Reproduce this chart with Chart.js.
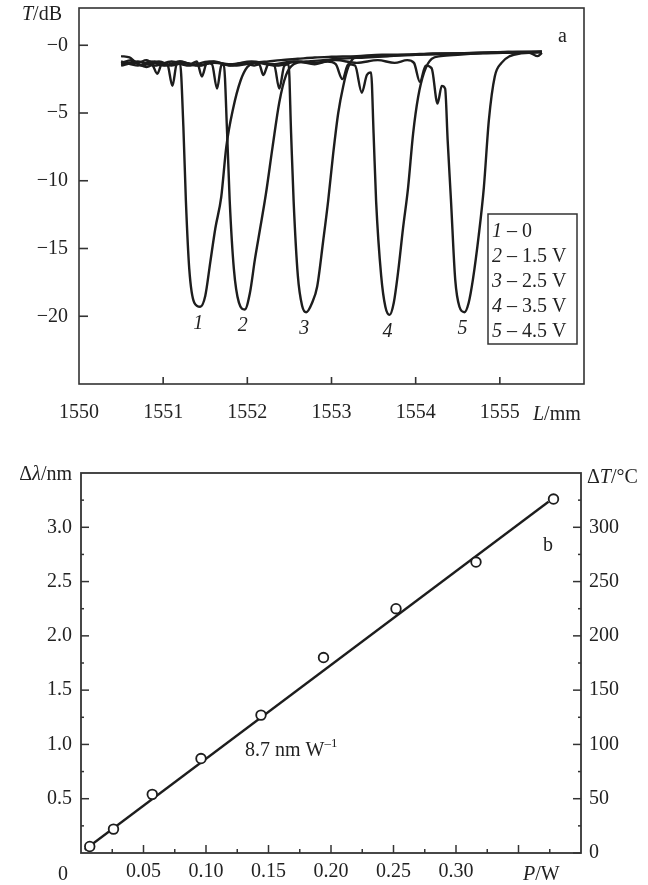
<!DOCTYPE html>
<html>
<head>
<meta charset="utf-8">
<script src="https://cdn.jsdelivr.net/npm/chart.js@4"></script>
<style>
  html, body { margin: 0; padding: 0; background: #fff; }
  #wrap { position: relative; width: 648px; height: 885px; }
  canvas { position: absolute; left: 0; }
  #top { top: 0; }
  #bot { top: 442px; }
</style>
</head>
<body>
<div id="wrap">
  <canvas id="top" width="648" height="442"></canvas>
  <canvas id="bot" width="648" height="443"></canvas>
</div>
<script>
// ---- panel a: transmission spectra, [wavelength, dB] ----
const curve1 = [[1550.50,-0.8],[1550.60,-0.9],[1550.70,-1.3],[1550.80,-1.1],[1550.87,-1.4],[1550.93,-2.1],[1550.99,-1.3],[1551.05,-1.4],[1551.11,-3.0],[1551.16,-1.4],[1551.20,-1.3],[1551.24,-6.0],[1551.27,-11.5],[1551.31,-16.5],[1551.37,-19.0],[1551.44,-19.3],[1551.50,-18.5],[1551.56,-16.0],[1551.62,-13.5],[1551.69,-11.2],[1551.75,-7.5],[1551.83,-4.7],[1551.92,-2.6],[1552.00,-1.6],[1552.10,-1.3],[1552.25,-1.2],[1552.40,-1.1],[1552.60,-1.0],[1552.80,-0.9],[1553.00,-0.85],[1553.30,-0.8],[1553.60,-0.7],[1553.90,-0.7],[1554.20,-0.6],[1554.50,-0.6],[1554.80,-0.55],[1555.10,-0.5],[1555.30,-0.55],[1555.50,-0.5]];
const curve2 = [[1550.50,-1.3],[1550.62,-1.1],[1550.75,-1.5],[1550.90,-1.2],[1551.05,-1.5],[1551.20,-1.2],[1551.32,-1.4],[1551.40,-1.2],[1551.46,-2.3],[1551.52,-1.3],[1551.58,-1.4],[1551.64,-3.2],[1551.69,-1.5],[1551.72,-1.4],[1551.76,-6.5],[1551.79,-11.4],[1551.84,-16.5],[1551.90,-19.0],[1551.97,-19.5],[1552.03,-18.3],[1552.09,-15.8],[1552.15,-13.6],[1552.22,-11.0],[1552.30,-7.5],[1552.38,-4.2],[1552.46,-2.2],[1552.55,-1.4],[1552.70,-1.2],[1552.90,-1.1],[1553.10,-1.0],[1553.40,-0.9],[1553.70,-0.8],[1554.00,-0.7],[1554.30,-0.65],[1554.60,-0.6],[1554.90,-0.55],[1555.20,-0.5],[1555.50,-0.5]];
const curve3 = [[1550.50,-1.5],[1550.65,-1.3],[1550.80,-1.6],[1550.95,-1.2],[1551.10,-1.5],[1551.25,-1.3],[1551.45,-1.5],[1551.60,-1.2],[1551.80,-1.5],[1551.95,-1.3],[1552.08,-1.5],[1552.14,-1.4],[1552.19,-2.2],[1552.25,-1.4],[1552.32,-1.5],[1552.38,-3.2],[1552.44,-1.5],[1552.49,-1.4],[1552.52,-6.5],[1552.55,-11.5],[1552.60,-17.0],[1552.65,-19.2],[1552.70,-19.7],[1552.77,-19.0],[1552.83,-17.8],[1552.90,-14.5],[1552.96,-11.5],[1553.02,-8.0],[1553.08,-5.0],[1553.14,-3.0],[1553.20,-1.6],[1553.28,-0.9],[1553.40,-0.85],[1553.60,-0.8],[1553.90,-0.7],[1554.20,-0.65],[1554.50,-0.6],[1554.80,-0.55],[1555.10,-0.5],[1555.50,-0.45]];
const curve4 = [[1550.50,-1.2],[1550.70,-1.5],[1550.85,-1.2],[1551.00,-1.5],[1551.20,-1.2],[1551.40,-1.5],[1551.60,-1.3],[1551.85,-1.5],[1552.10,-1.3],[1552.35,-1.5],[1552.60,-1.2],[1552.80,-1.4],[1552.95,-1.2],[1553.05,-1.4],[1553.13,-2.5],[1553.20,-1.4],[1553.28,-1.5],[1553.36,-3.5],[1553.42,-2.2],[1553.47,-2.0],[1553.50,-6.5],[1553.53,-11.5],[1553.59,-17.0],[1553.64,-19.3],[1553.69,-19.9],[1553.74,-19.0],[1553.79,-16.8],[1553.85,-13.5],[1553.91,-10.5],[1553.97,-6.5],[1554.03,-3.8],[1554.10,-2.0],[1554.19,-1.0],[1554.30,-0.8],[1554.50,-0.7],[1554.80,-0.6],[1555.10,-0.55],[1555.50,-0.5]];
const curve5 = [[1550.50,-1.4],[1550.70,-1.2],[1550.90,-1.5],[1551.10,-1.2],[1551.30,-1.5],[1551.55,-1.2],[1551.80,-1.4],[1552.05,-1.2],[1552.30,-1.4],[1552.55,-1.2],[1552.80,-1.3],[1553.05,-1.1],[1553.30,-1.3],[1553.55,-1.1],[1553.75,-1.3],[1553.90,-1.1],[1553.98,-1.3],[1554.05,-2.7],[1554.12,-1.5],[1554.19,-1.7],[1554.26,-4.3],[1554.31,-3.0],[1554.35,-3.2],[1554.38,-7.0],[1554.42,-11.5],[1554.47,-17.3],[1554.52,-19.3],[1554.58,-19.7],[1554.63,-19.0],[1554.68,-17.3],[1554.75,-14.0],[1554.81,-10.5],[1554.87,-5.5],[1554.94,-2.3],[1555.02,-1.3],[1555.12,-0.8],[1555.25,-0.6],[1555.35,-0.55],[1555.45,-0.8],[1555.50,-0.55]];
const curves = [curve1, curve2, curve3, curve4, curve5];
const legendNums = ['1', '2', '3', '4', '5'];
const legendVals = ['0', '1.5 V', '2.5 V', '3.5 V', '4.5 V'];
const xTicksA = [1550, 1551, 1552, 1553, 1554, 1555];
const yTicksA = [0, -5, -10, -15, -20];

// ---- panel b: shift vs power ----
const powerW = [0.007, 0.026, 0.057, 0.096, 0.144, 0.194, 0.252, 0.316, 0.378];
const shiftNm = [0.06, 0.22, 0.54, 0.87, 1.27, 1.80, 2.25, 2.68, 3.26];
const fitW = [0.003, 0.374];
const fitNm = [0.03, 3.235];
const xTicksB = [0.05, 0.10, 0.15, 0.20, 0.25, 0.30, 0.35];
const xMinorB = [0.025, 0.075, 0.125, 0.175, 0.225, 0.275, 0.325, 0.375];
const yTicksB = [0.5, 1.0, 1.5, 2.0, 2.5, 3.0];
const yMinorB = [0.25, 0.75, 1.25, 1.75, 2.25, 2.75, 3.25];
const tTicksB = [0, 50, 100, 150, 200, 250, 300];
const tMinorB = [25, 75, 125, 175, 225, 275, 325];

const INK = '#1d1d1d';
const SERIF = "'Liberation Serif', 'Times New Roman', serif";
const tickFont = { family: SERIF, size: 20 };

function text(ctx, parts, x, y, align) {
  // parts: [str, italic, size, dy]
  let w = 0;
  parts.forEach(p => { ctx.font = (p[1] ? 'italic ' : '') + (p[2] || 20) + 'px ' + SERIF; w += ctx.measureText(p[0]).width; });
  let cx = align === 'right' ? x - w : align === 'center' ? x - w / 2 : x;
  ctx.textAlign = 'left';
  ctx.textBaseline = 'alphabetic';
  parts.forEach(p => {
    ctx.font = (p[1] ? 'italic ' : '') + (p[2] || 20) + 'px ' + SERIF;
    ctx.fillText(p[0], cx, y + (p[3] || 0));
    cx += ctx.measureText(p[0]).width;
  });
}

function ticks(ctx, scale, values, len, side) {
  values.forEach(v => {
    const p = scale.getPixelForValue(v);
    ctx.beginPath();
    if (side === 'bottom') { ctx.moveTo(p, scale.top); ctx.lineTo(p, scale.top - len); }
    if (side === 'left') { ctx.moveTo(scale.right, p); ctx.lineTo(scale.right + len, p); }
    if (side === 'right') { ctx.moveTo(scale.left, p); ctx.lineTo(scale.left - len, p); }
    ctx.stroke();
  });
}

// fixed axis sizes, no extra label overflow padding
function fixSize(prop, size) {
  return s => {
    s[prop] = size;
    s.paddingTop = 0; s.paddingBottom = 0; s.paddingLeft = 0; s.paddingRight = 0;
  };
}

const decorA = {
  id: 'decorA',
  afterDraw(chart) {
    const { ctx, chartArea: a, scales } = chart;
    ctx.save();
    ctx.strokeStyle = '#333';
    ctx.fillStyle = '#222';
    ctx.lineWidth = 1.6;
    ctx.strokeRect(a.left, a.top, a.right - a.left, a.bottom - a.top);
    ticks(ctx, scales.x, [1551, 1552, 1553, 1554, 1555], 7, 'bottom');
    ticks(ctx, scales.y, yTicksA, 9, 'left');

    text(ctx, [['T', true], ['/dB', false]], 22, 20);
    text(ctx, [['L', true], ['/mm', false]], 533, 420);
    text(ctx, [['a', false]], 558, 42);

    // curve numbers under each minimum
    curves.forEach((c, i) => {
      let m = c[0];
      c.forEach(p => { if (p[1] < m[1]) m = p; });
      const px = scales.x.getPixelForValue(m[0]) - 2;
      const py = scales.y.getPixelForValue(m[1]) + 22;
      text(ctx, [[legendNums[i], true]], px, py, 'center');
    });

    // legend box
    ctx.lineWidth = 1.5;
    ctx.strokeRect(488, 214, 89, 130);
    legendNums.forEach((n, i) => {
      text(ctx, [[n, true], [' \u2013 ' + legendVals[i], false]], 492, 237 + 25 * i);
    });
    ctx.restore();
  }
};

const decorB = {
  id: 'decorB',
  afterDraw(chart) {
    const { ctx, chartArea: a, scales } = chart;
    ctx.save();
    ctx.strokeStyle = '#333';
    ctx.fillStyle = '#222';
    ctx.lineWidth = 1.8;
    ctx.strokeRect(a.left, a.top, a.right - a.left, a.bottom - a.top);
    ctx.lineWidth = 1.5;
    ticks(ctx, scales.x, xTicksB, 8, 'bottom');
    ticks(ctx, scales.x, xMinorB, 4, 'bottom');
    ticks(ctx, scales.y, yTicksB, 8, 'left');
    ticks(ctx, scales.y, yMinorB, 3, 'left');
    ticks(ctx, scales.y2, tTicksB, 8, 'right');
    ticks(ctx, scales.y2, tMinorB, 3, 'right');

    text(ctx, [['\u0394', false], ['\u03bb', true], ['/nm', false]], 72, 38, 'right');
    text(ctx, [['\u0394', false], ['T', true], ['/\u00b0C', false]], 587, 41);
    text(ctx, [['P', true], ['/W', false]], 523, 438);
    text(ctx, [['0', false]], 63, 438, 'center');
    text(ctx, [['8.7 nm W', false], ['\u20131', false, 13, -9]], 245, 314);
    text(ctx, [['b', false]], 543, 109);
    ctx.restore();
  }
};

new Chart(document.getElementById('top'), {
  type: 'line',
  data: {
    datasets: curves.map(c => ({
      data: c.map(p => ({ x: p[0], y: p[1] })),
      borderColor: INK,
      borderWidth: 2.4,
      pointRadius: 0,
      cubicInterpolationMode: 'monotone',
      fill: false
    }))
  },
  options: {
    responsive: false,
    animation: false,
    layout: { padding: { top: 8, right: 64, left: 0, bottom: 0 } },
    plugins: { legend: { display: false }, tooltip: { enabled: false } },
    scales: {
      x: {
        type: 'linear', min: 1550, max: 1556,
        grid: { display: false, drawTicks: false }, border: { display: false },
        afterBuildTicks: s => { s.ticks = xTicksA.map(v => ({ value: v })); },
        afterFit: fixSize('height', 58),
        ticks: { padding: 17, font: tickFont, color: '#222', maxRotation: 0, callback: v => String(v) }
      },
      y: {
        type: 'linear', min: -25, max: 2.75,
        grid: { display: false, drawTicks: false }, border: { display: false },
        afterBuildTicks: s => { s.ticks = yTicksA.map(v => ({ value: v })); },
        afterFit: fixSize('width', 79),
        ticks: { padding: 11, font: tickFont, color: '#222', callback: v => '\u2212' + Math.abs(v) }
      }
    }
  },
  plugins: [decorA]
});

new Chart(document.getElementById('bot'), {
  type: 'line',
  data: {
    datasets: [
      {
        data: powerW.map((x, i) => ({ x: x, y: shiftNm[i] })),
        showLine: false,
        pointStyle: 'circle',
        pointRadius: 4.8,
        pointBorderWidth: 1.8,
        pointBackgroundColor: '#fff',
        pointBorderColor: INK,
        yAxisID: 'y'
      },
      {
        data: fitW.map((x, i) => ({ x: x, y: fitNm[i] })),
        borderColor: INK,
        borderWidth: 2.3,
        pointRadius: 0,
        fill: false,
        yAxisID: 'y'
      }
    ]
  },
  options: {
    responsive: false,
    animation: false,
    layout: { padding: { top: 31, right: 0, left: 0, bottom: 0 } },
    plugins: { legend: { display: false }, tooltip: { enabled: false } },
    scales: {
      x: {
        type: 'linear', min: 0, max: 0.4,
        grid: { display: false, drawTicks: false }, border: { display: false },
        afterBuildTicks: s => { s.ticks = [0.05, 0.10, 0.15, 0.20, 0.25, 0.30].map(v => ({ value: v })); },
        afterFit: fixSize('height', 32),
        ticks: { padding: 7, font: tickFont, color: '#222', maxRotation: 0, callback: v => v.toFixed(2) }
      },
      y: {
        type: 'linear', position: 'left', min: 0, max: 3.5,
        grid: { display: false, drawTicks: false }, border: { display: false },
        afterBuildTicks: s => { s.ticks = yTicksB.map(v => ({ value: v })); },
        afterFit: fixSize('width', 81),
        ticks: { padding: 9, font: tickFont, color: '#222', callback: v => v.toFixed(1) }
      },
      y2: {
        type: 'linear', position: 'right', min: 0, max: 350,
        grid: { display: false, drawTicks: false }, border: { display: false },
        afterBuildTicks: s => { s.ticks = tTicksB.map(v => ({ value: v })); },
        afterFit: fixSize('width', 67),
        ticks: { padding: 8, font: tickFont, color: '#222', callback: v => String(v) }
      }
    }
  },
  plugins: [decorB]
});
</script>
</body>
</html>
